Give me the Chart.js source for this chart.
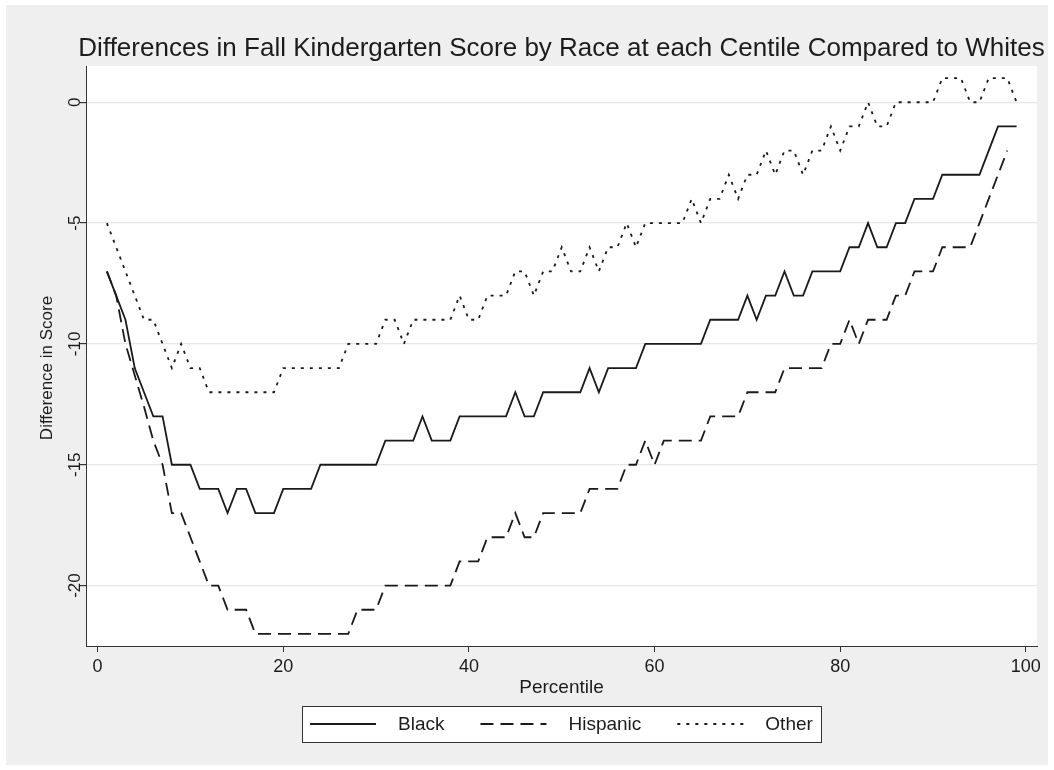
<!DOCTYPE html>
<html>
<head>
<meta charset="utf-8">
<script src="https://cdn.jsdelivr.net/npm/chart.js@4.4.1/dist/chart.umd.min.js"></script>
<style>
  html, body { margin: 0; padding: 0; background: #ffffff; }
  #grafico { display: block; }
</style>
</head>
<body>
<canvas id="grafico" width="1054" height="770"></canvas>
<script>
// percentis 1..99 (eixo x)
const percentis = Array.from({ length: 99 }, (_, i) => i + 1);

// diferença de pontuação em relação aos brancos, por percentil
const diferencaNegros = [
  -7, -8, -9, -11, -12, -13, -13, -15, -15, -15,
  -16, -16, -16, -17, -16, -16, -17, -17, -17, -16,
  -16, -16, -16, -15, -15, -15, -15, -15, -15, -15,
  -14, -14, -14, -14, -13, -14, -14, -14, -13, -13,
  -13, -13, -13, -13, -12, -13, -13, -12, -12, -12,
  -12, -12, -11, -12, -11, -11, -11, -11, -10, -10,
  -10, -10, -10, -10, -10, -9, -9, -9, -9, -8,
  -9, -8, -8, -7, -8, -8, -7, -7, -7, -7,
  -6, -6, -5, -6, -6, -5, -5, -4, -4, -4,
  -3, -3, -3, -3, -3, -2, -1, -1, -1
];

const diferencaHispanicos = [
  -7, -8, -10, -11.3, -12.6, -14, -15, -17, -17, -18,
  -19, -20, -20, -21, -21, -21, -22, -22, -22, -22,
  -22, -22, -22, -22, -22, -22, -22, -21, -21, -21,
  -20, -20, -20, -20, -20, -20, -20, -20, -19, -19,
  -19, -18, -18, -18, -17, -18, -18, -17, -17, -17,
  -17, -17, -16, -16, -16, -16, -15, -15, -14, -15,
  -14, -14, -14, -14, -14, -13, -13, -13, -13, -12,
  -12, -12, -12, -11, -11, -11, -11, -11, -10, -10,
  -9, -10, -9, -9, -9, -8, -8, -7, -7, -7,
  -6, -6, -6, -6, -5, -4, -3, -2, null
];

const diferencaOutros = [
  -5, -6, -7, -8, -9, -9, -10, -11, -10, -11,
  -11, -12, -12, -12, -12, -12, -12, -12, -12, -11,
  -11, -11, -11, -11, -11, -11, -10, -10, -10, -10,
  -9, -9, -10, -9, -9, -9, -9, -9, -8, -9,
  -9, -8, -8, -8, -7, -7, -8, -7, -7, -6,
  -7, -7, -6, -7, -6, -6, -5, -6, -5, -5,
  -5, -5, -5, -4, -5, -4, -4, -3, -4, -3,
  -3, -2, -3, -2, -2, -3, -2, -2, -1, -2,
  -1, -1, 0, -1, -1, 0, 0, 0, 0, 0,
  1, 1, 1, 0, 0, 1, 1, 1, 0
];

const nomesSeries = ['Black', 'Hispanic', 'Other'];
const ticksX = [0, 20, 40, 60, 80, 100];
const ticksY = [0, -5, -10, -15, -20];

const TITULO = 'Differences in Fall Kindergarten Score by Race at each Centile Compared to Whites';
const TITULO_Y = 'Difference in Score';
const FONTE = '"Liberation Sans", Arial, sans-serif';
const COR_TEXTO = '#1c1c1c';
const COR_LINHA = '#1a1a1a';

function pontos(valores) {
    return valores.map((v, i) => ({ x: percentis[i], y: v }));
}

// fundo cinza da figura, área do gráfico em branco e título
const fundoGrafico = {
    id: 'fundoGrafico',
    beforeDraw(chart) {
        const { ctx, chartArea: a, width, height } = chart;
        ctx.save();
        ctx.fillStyle = '#ffffff';
        ctx.fillRect(0, 0, width, height);
        ctx.fillStyle = '#efefef';
        ctx.fillRect(6, 5, width - 12, height - 10);
        ctx.fillStyle = '#ffffff';
        ctx.fillRect(a.left, a.top, a.right - a.left, a.bottom - a.top);

        ctx.font = '26px ' + FONTE;
        ctx.fillStyle = COR_TEXTO;
        ctx.textAlign = 'center';
        ctx.textBaseline = 'middle';
        ctx.fillText(TITULO, (a.left + a.right) / 2, 49);
        ctx.restore();
    }
};

// rótulos e título do eixo y na vertical
const rotulosY = {
    id: 'rotulosY',
    afterDraw(chart) {
        const { ctx, chartArea } = chart;
        const escala = chart.scales.y;
        ctx.save();
        ctx.font = '17px ' + FONTE;
        ctx.fillStyle = COR_TEXTO;
        ctx.textAlign = 'center';
        ctx.textBaseline = 'middle';
        ticksY.forEach((v) => {
            const py = escala.getPixelForValue(v);
            ctx.save();
            ctx.translate(escala.right - 11, py);
            ctx.rotate(-Math.PI / 2);
            ctx.fillText(String(v), 0, 0);
            ctx.restore();
        });
        ctx.translate(47, (chartArea.top + chartArea.bottom) / 2 + 12);
        ctx.rotate(-Math.PI / 2);
        ctx.fillText(TITULO_Y, 0, 0);
        ctx.restore();
    }
};

// legenda com moldura abaixo do eixo x
const legendaCaixa = {
    id: 'legendaCaixa',
    afterDraw(chart) {
        const { ctx, chartArea } = chart;
        const comprLinha = 66, antesTexto = 22, entreItens = 36, margem = 8;
        ctx.save();
        ctx.font = '19px ' + FONTE;
        const itens = chart.data.datasets.map((ds) => ({
            texto: ds.label,
            dash: ds.borderDash || [],
            espessura: ds.borderWidth,
            largura: ctx.measureText(ds.label).width
        }));
        const total = margem * 2
            + itens.reduce((s, it) => s + comprLinha + antesTexto + it.largura, 0)
            + entreItens * (itens.length - 1);
        const meio = (chartArea.left + chartArea.right) / 2;
        let x = Math.round(meio - total / 2);
        const topo = 706, altura = 36;
        const cy = topo + altura / 2;

        ctx.fillStyle = '#ffffff';
        ctx.fillRect(x, topo, total, altura);
        ctx.strokeStyle = '#333333';
        ctx.lineWidth = 1;
        ctx.strokeRect(x + 0.5, topo + 0.5, Math.round(total), altura);

        x += margem;
        itens.forEach((it) => {
            ctx.beginPath();
            ctx.setLineDash(it.dash);
            ctx.lineWidth = it.espessura;
            ctx.strokeStyle = COR_LINHA;
            ctx.moveTo(x, cy);
            ctx.lineTo(x + comprLinha, cy);
            ctx.stroke();
            ctx.setLineDash([]);
            x += comprLinha + antesTexto;
            ctx.fillStyle = COR_TEXTO;
            ctx.textAlign = 'left';
            ctx.textBaseline = 'middle';
            ctx.fillText(it.texto, x, cy + 1);
            x += it.largura + entreItens;
        });
        ctx.restore();
    }
};

const ctx = document.getElementById('grafico').getContext('2d');

new Chart(ctx, {
    type: 'line',
    data: {
        datasets: [
            {
                label: nomesSeries[0],
                data: pontos(diferencaNegros),
                borderColor: COR_LINHA,
                borderWidth: 1.8,
                borderDash: []
            },
            {
                label: nomesSeries[1],
                data: pontos(diferencaHispanicos),
                borderColor: COR_LINHA,
                borderWidth: 1.8,
                borderDash: [13, 7]
            },
            {
                label: nomesSeries[2],
                data: pontos(diferencaOutros),
                borderColor: COR_LINHA,
                borderWidth: 1.8,
                borderDash: [3, 6]
            }
        ]
    },
    options: {
        responsive: false,
        animation: false,
        layout: {
            padding: { left: 0, right: 17, top: 66, bottom: 64 }
        },
        elements: {
            point: { radius: 0 },
            line: { tension: 0, fill: false }
        },
        plugins: {
            legend: { display: false },
            tooltip: { enabled: false },
            title: { display: false }
        },
        scales: {
            x: {
                type: 'linear',
                min: -1.25,
                max: 101.2,
                afterBuildTicks: (escala) => {
                    escala.ticks = ticksX.map((v) => ({ value: v }));
                },
                afterFit: (escala) => { escala.height = 60; },
                border: { display: true, color: '#333333', width: 1 },
                grid: {
                    drawOnChartArea: false,
                    drawTicks: true,
                    tickLength: 6,
                    color: '#333333'
                },
                ticks: {
                    color: COR_TEXTO,
                    padding: 4,
                    maxRotation: 0,
                    font: { family: FONTE, size: 18 }
                },
                title: {
                    display: true,
                    text: 'Percentile',
                    color: COR_TEXTO,
                    font: { family: FONTE, size: 19 },
                    padding: { top: 0, bottom: 7 }
                }
            },
            y: {
                type: 'linear',
                min: -22.5,
                max: 1.5,
                afterBuildTicks: (escala) => {
                    escala.ticks = ticksY.map((v) => ({ value: v }));
                },
                afterFit: (escala) => { escala.width = 86; },
                border: { display: true, color: '#333333', width: 1 },
                grid: {
                    drawOnChartArea: true,
                    drawTicks: true,
                    tickLength: 6,
                    color: '#e6e6e6',
                    lineWidth: 1.2,
                    tickColor: '#333333'
                },
                ticks: { display: false },
                title: { display: false }
            }
        }
    },
    plugins: [fundoGrafico, rotulosY, legendaCaixa]
});
</script>
</body>
</html>
